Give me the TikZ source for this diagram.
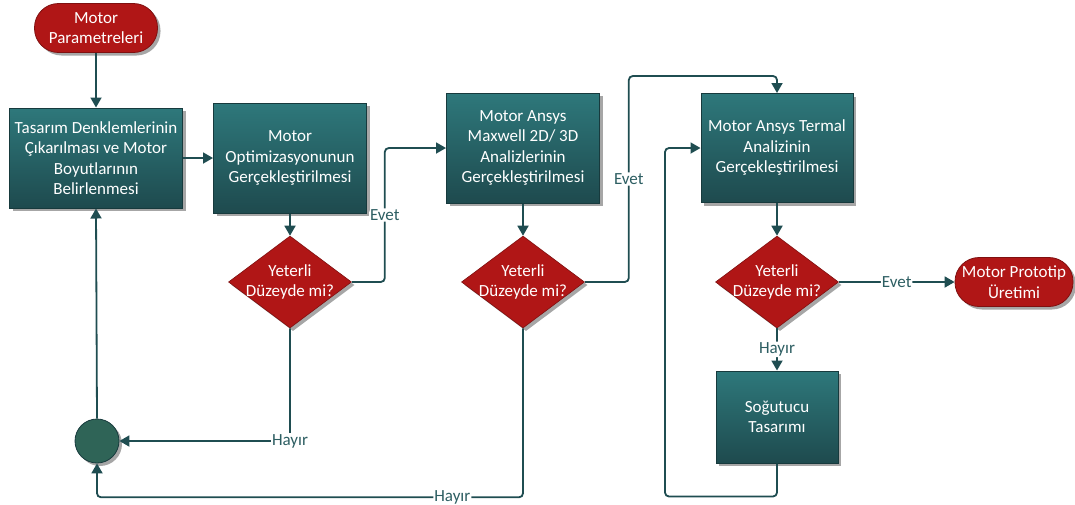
\documentclass[tikz,border=0pt]{standalone}
\usepackage{fontspec}
\setmainfont{Carlito}
\usetikzlibrary{arrows.meta,shapes.geometric,shadows}
\definecolor{tealtop}{HTML}{2E787B}
\definecolor{tealbot}{HTML}{1E4A4E}
\definecolor{tealedge}{HTML}{173A3D}
\definecolor{redfill}{HTML}{B01616}
\definecolor{rededge}{HTML}{7F1010}
\definecolor{linec}{HTML}{1F4D51}
\definecolor{labelc}{HTML}{2D5E62}
\definecolor{junc}{HTML}{2F6457}
\begin{document}
\begin{tikzpicture}[x=1pt,y=-1pt,
  txt/.style={font=\fontsize{17}{20.5}\selectfont, text=white, align=center},
  shad/.style={drop shadow={shadow xshift=3pt, shadow yshift=-3pt, opacity=0.35, fill=black}},
  box/.style={txt, shad, draw=tealedge, line width=1pt, top color=tealtop, bottom color=tealbot, inner sep=2pt},
  term/.style={txt, shad, draw=rededge, line width=0.8pt, fill=redfill, rounded corners=24pt, minimum height=49pt, inner sep=2pt},
  decide/.style={shad, diamond, draw=rededge, line width=0.6pt, fill=redfill, minimum width=123pt, minimum height=92pt, inner sep=0pt},
  junction/.style={circle, shad, draw=tealedge, line width=0.8pt, fill=junc, minimum size=44pt, inner sep=0pt},
  conn/.style={draw=linec, line width=1.8pt, rounded corners=4pt, -{Triangle[length=10pt,width=11pt]}},
  lbl/.style={font=\fontsize{17}{20}\selectfont, text=labelc, fill=white, inner sep=1pt}
]
\useasboundingbox (0,0) rectangle (1075,504);

\node[term, minimum width=123pt] (start) at (96,28) {Motor\\Parametreleri};
\node[box, minimum width=173pt, minimum height=100pt] (b1) at (96,158) {Tasarım Denklemlerinin\\Çıkarılması ve Motor\\Boyutlarının\\Belirlenmesi};
\node[box, minimum width=153pt, minimum height=110pt] (b2) at (290,158) {Motor\\Optimizasyonunun\\Gerçekleştirilmesi};
\node[decide, label={[txt]center:Yeterli\\Düzeyde mi?}] (d1) at (290,282) {};
\node[box, minimum width=153pt, minimum height=110pt] (b3) at (523,148) {Motor Ansys\\Maxwell 2D/ 3D\\Analizlerinin\\Gerçekleştirilmesi};
\node[decide, label={[txt]center:Yeterli\\Düzeyde mi?}] (d2) at (523,282) {};
\node[box, minimum width=152pt, minimum height=109pt] (b4) at (777,148) {Motor Ansys Termal\\Analizinin\\Gerçekleştirilmesi};
\node[decide, label={[txt]center:Yeterli\\Düzeyde mi?}] (d3) at (777,282) {};
\node[term, minimum width=118pt] (end) at (1014,282) {Motor Prototip\\Üretimi};
\node[box, minimum width=122pt, minimum height=92pt] (b5) at (777,417) {Soğutucu\\Tasarımı};
\node[junction] (j) at (97,441) {};

\draw[conn] (start) -- (b1);
\draw[conn] (b1) -- (b2);
\draw[conn] (b2) -- (d1);
\draw[conn] (d1.east) -- ++(33,0) |- node[lbl,pos=0.25]{Evet} (b3.west);
\draw[conn] (b3) -- (d2);
\draw[conn] (d2.east) -- ++(44,0) |- node[lbl,pos=0.25]{Evet} ([yshift=17pt]b4.north) -- (b4.north);
\draw[conn] (b4) -- (d3);
\draw[conn] (d3) -- node[lbl]{Evet} (end);
\draw[conn] (d3) -- node[lbl]{Hayır} (b5);
\draw[conn] (b5.south) -- ++(0,33) -- ++(-112,0) |- (b4.west);
\draw[conn] (d1.south) |- node[lbl,pos=0.5]{Hayır} (j.east);
\draw[conn] (d2.south) -- ++(0,169) -| node[lbl,pos=0.083]{Hayır} (j.south);
\draw[conn] (j.north) -- (b1.south);
\end{tikzpicture}
\end{document}
